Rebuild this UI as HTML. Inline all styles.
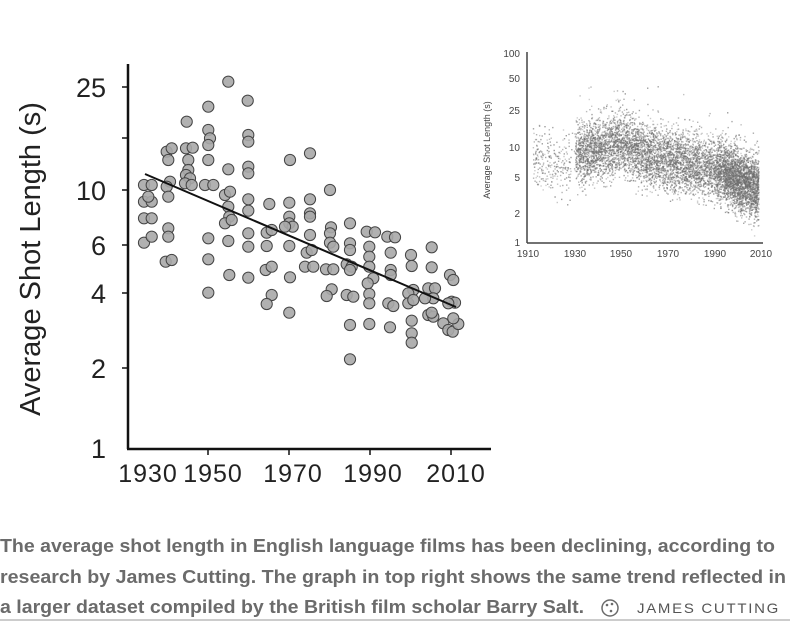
<!DOCTYPE html>
<html><head><meta charset="utf-8"><style>
html,body{margin:0;padding:0;background:#fff;}
svg{display:block}
</style></head><body>
<svg id="s" width="790" height="622" viewBox="0 0 790 622" xmlns="http://www.w3.org/2000/svg" font-family="Liberation Sans, sans-serif">
<rect width="790" height="622" fill="#fff"/>
<line x1="128" y1="64" x2="128" y2="449" stroke="#111" stroke-width="2.5"/>
<line x1="127" y1="449" x2="491" y2="449" stroke="#111" stroke-width="2.5"/>
<g stroke="#111" stroke-width="1.5">
<line x1="122" y1="87" x2="128" y2="87"/><line x1="122" y1="138" x2="128" y2="138"/><line x1="122" y1="190" x2="128" y2="190"/><line x1="122" y1="245" x2="128" y2="245"/><line x1="122" y1="293" x2="128" y2="293"/><line x1="122" y1="368" x2="128" y2="368"/>
<line x1="208" y1="449" x2="208" y2="455"/><line x1="289" y1="449" x2="289" y2="455"/><line x1="370" y1="449" x2="370" y2="455"/><line x1="451" y1="449" x2="451" y2="455"/>
</g>
<g font-size="27" fill="#222" text-anchor="end">
<text x="106" y="97">25</text><text x="106" y="200">10</text><text x="106" y="255">6</text><text x="106" y="303">4</text><text x="106" y="378">2</text><text x="106" y="458">1</text>
</g>
<g font-size="25" fill="#222" text-anchor="middle" letter-spacing="1">
<text x="148" y="482">1930</text><text x="213" y="482">1950</text><text x="293" y="482">1970</text><text x="373" y="482">1990</text><text x="456" y="482">2010</text>
</g>
<text transform="translate(40,259) rotate(-90)" font-size="29" fill="#222" text-anchor="middle">Average Shot Length (s)</text>
<g id="dots" fill="#a8a8a8" stroke="#444" stroke-width="1" fill-opacity="0.9"></g>
<line x1="145" y1="174" x2="456" y2="307" stroke="#111" stroke-width="2"/>

<g id="cloud" fill="#6e6e6e"></g>
<line x1="527" y1="52" x2="527" y2="243" stroke="#444" stroke-width="1.5"/>
<line x1="527" y1="243" x2="763" y2="243" stroke="#444" stroke-width="1.5"/>
<g font-size="10" fill="#444" text-anchor="end">
<text x="520" y="57">100</text><text x="520" y="82">50</text><text x="520" y="114">25</text><text x="520" y="151">10</text><text x="520" y="181">5</text><text x="520" y="217">2</text><text x="520" y="246">1</text>
</g>
<g font-size="10" fill="#444" text-anchor="middle">
<text x="528" y="257">1910</text><text x="575" y="257">1930</text><text x="621" y="257">1950</text><text x="668" y="257">1970</text><text x="715" y="257">1990</text><text x="761" y="257">2010</text>
</g>
<text transform="translate(490,150) rotate(-90)" font-size="9" fill="#444" text-anchor="middle">Average Shot Length (s)</text>

<g font-size="18" font-weight="bold" fill="#6b6b6b">
<text x="0" y="552" textLength="775" lengthAdjust="spacingAndGlyphs">The average shot length in English language films has been declining, according to</text>
<text x="0" y="583" textLength="786" lengthAdjust="spacingAndGlyphs">research by James Cutting. The graph in top right shows the same trend reflected in</text>
<text x="0" y="613" textLength="584" lengthAdjust="spacingAndGlyphs">a larger dataset compiled by the British film scholar Barry Salt.</text>
</g>
<circle cx="610" cy="608" r="8" fill="none" stroke="#6b6b6b" stroke-width="1.5"/>
<circle cx="607" cy="605" r="1.3" fill="#6b6b6b"/><circle cx="612" cy="604" r="1.3" fill="#6b6b6b"/><circle cx="611" cy="611" r="1.3" fill="#6b6b6b"/>
<text x="637" y="613" font-size="14" fill="#555" letter-spacing="1.6" textLength="143" lengthAdjust="spacingAndGlyphs">JAMES CUTTING</text>
<line x1="0" y1="620" x2="790" y2="620" stroke="#ccc" stroke-width="2"/>
</svg>
<script>
var P=[[432,405],[432,455],[432,505],[432,578],[455,455],[455,505],[455,560],[455,405],[445,440],
[500,305],[515,295],[505,330],[510,395],[500,410],[505,440],[505,535],[505,560],[497,635],[515,630],
[560,215],[558,295],[578,293],[565,330],[565,360],[558,375],[570,385],[555,400],[575,405],
[625,170],[625,240],[630,265],[625,285],[625,330],[615,405],[640,405],[625,565],[625,628],[625,728],
[685,95],[685,358],[675,435],[690,425],[685,470],[688,500],[675,520],[695,510],[685,573],[688,675],
[743,152],[745,255],[745,275],[745,350],[745,370],[745,448],[745,482],[745,550],[745,590],[745,683],
[800,548],[808,462],[815,540],[800,588],[797,660],[815,650],[815,735],[800,762],
[870,330],[868,458],[868,500],[868,520],[878,530],[855,530],[868,588],[870,682],[868,788],
[930,310],[930,448],[930,490],[930,500],[930,555],[920,608],[935,600],[915,650],[940,650],
[990,420],[993,532],[990,550],[990,578],[1000,590],[978,658],[1000,658],[995,718],[980,738],
[1050,520],[1050,580],[1050,600],[1040,643],[1055,650],[1050,660],[1040,735],[1060,740],[1050,825],[1050,928],
[1100,545],[1125,547],[1108,590],[1108,620],[1108,650],[1120,685],[1103,700],[1108,732],[1108,760],[1108,822],
[1162,560],[1185,562],[1172,608],[1172,660],[1172,675],[1165,760],[1180,768],[1170,832],
[1233,615],[1235,648],[1240,720],[1225,730],[1225,760],[1240,750],[1235,812],[1235,850],[1235,878],
[1295,592],[1295,652],[1285,715],[1305,715],[1300,745],[1275,745],[1285,795],[1300,800],[1295,788],
[1350,675],[1360,690],[1355,755],[1365,758],[1345,760],[1330,820],[1345,840],[1358,845],[1375,822],[1360,805]];
var g=document.getElementById("dots"),h="";
P.forEach(function(p){h+='<circle cx="'+(p[0]/3).toFixed(1)+'" cy="'+(50+p[1]/3).toFixed(1)+'" r="5.6"/>';});
g.innerHTML=h;
var sd=987654321;function r(){sd^=sd<<13;sd^=sd>>>17;sd^=sd<<5;return ((sd>>>0)%1000000)/1000000;}
function n(){return (r()+r()+r()+r()-2)*1.73;}
function mu(y){if(y<1930)return Math.log10(8-(y-1912)*0.12);
 if(y<1950)return Math.log10(8.5+(y-1930)*0.15);
 if(y<1960)return Math.log10(11.5-(y-1950)*0.3);
 if(y<1990)return Math.log10(8.5-(y-1960)*0.08);
 return Math.log10(6-(y-1990)*0.13);}
function dens(y){if(y<1928)return 0.1;if(y<1930)return 0.06;if(y<1990)return 0.5;if(y<1993)return 0.75;return 1;}
var c="",cnt=0;
while(cnt<7500){var y=1912+r()*96;if(r()>dens(y))continue;
 var v=mu(y)+n()*0.16;if(r()<0.02)v+=0.5*r();
 var X=528+(y-1910)*2.35,Y=243-v*94.5;if(Y<55||Y>240)continue;
 c+='<rect x="'+X.toFixed(1)+'" y="'+Y.toFixed(1)+'" width="1.4" height="1.4" opacity="'+(0.3+r()*0.4).toFixed(2)+'"/>';cnt++;}
document.getElementById("cloud").innerHTML=c;
</script>
</body></html>
